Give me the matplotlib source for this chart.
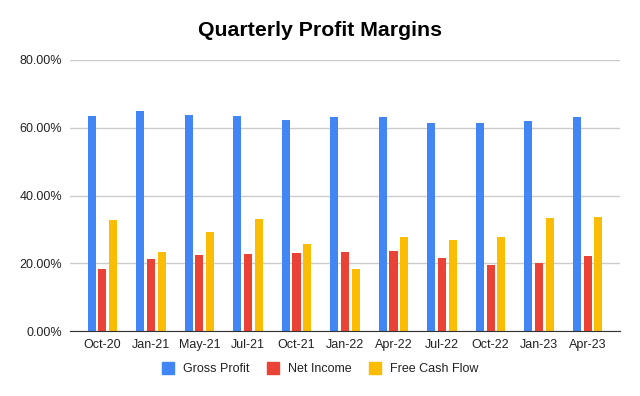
import matplotlib
matplotlib.use("Agg")
import matplotlib.pyplot as plt
import numpy as np
from matplotlib.ticker import FuncFormatter
from matplotlib.lines import Line2D

plt.rcParams['font.family'] = ['Liberation Sans', 'DejaVu Sans']

categories = ["Oct-20", "Jan-21", "May-21", "Jul-21", "Oct-21", "Jan-22",
              "Apr-22", "Jul-22", "Oct-22", "Jan-23", "Apr-23"]
gross_profit = [63.4, 65.0, 63.7, 63.4, 62.2, 63.2, 63.2, 61.3, 61.3, 61.9, 63.2]
net_income = [18.3, 21.2, 22.5, 22.8, 23.1, 23.3, 23.6, 21.5, 19.5, 20.2, 22.1]
free_cash_flow = [32.8, 23.3, 29.1, 33.1, 25.6, 18.3, 27.7, 26.9, 27.7, 33.5, 33.8]
series_names = ["Gross Profit", "Net Income", "Free Cash Flow"]
colors = ["#4285F4", "#EA4335", "#FBBC04"]

fig = plt.figure(figsize=(6.4, 3.96), dpi=100)
ax = fig.add_axes([70/640, 1 - 331/396, 550/640, (331 - 60)/396])

x = np.arange(len(categories))
w = 0.165
pitch = 0.22
for i, (vals, c) in enumerate(zip([gross_profit, net_income, free_cash_flow], colors)):
    ax.bar(x + (i - 1) * pitch, vals, width=w, color=c, zorder=3)

ax.set_ylim(0, 80)
ax.set_xlim(-0.67, len(categories) - 1 + 0.67)
ax.set_yticks([0, 20, 40, 60, 80])
ax.yaxis.set_major_formatter(FuncFormatter(lambda v, p: f"{v:.2f}%"))
ax.set_xticks(x)
ax.set_xticklabels(categories)
ax.grid(axis='y', color='#cccccc', linewidth=1, zorder=0)
for s in ['top', 'right', 'left']:
    ax.spines[s].set_visible(False)
ax.spines['bottom'].set_color('#333333')
ax.spines['bottom'].set_zorder(4)
ax.tick_params(axis='both', length=0, labelsize=9, colors='#222222', pad=6)
ax.tick_params(axis='y', pad=5.5)

fig.text(0.5, 1 - 30/396, "Quarterly Profit Margins", ha='center', va='center',
         fontsize=15.3, fontweight='bold', color='#000000')

handles = [Line2D([0], [0], marker='s', linestyle='none', markersize=8.5,
                  markerfacecolor=c, markeredgecolor=c) for c in colors]
fig.legend(handles, series_names, loc='center', bbox_to_anchor=(320/640, 1 - 369/396),
           ncol=3, frameon=False, fontsize=9, handlelength=1.0, handletextpad=0.7,
           columnspacing=1.4, labelcolor='#222222')

fig.savefig("out.png", dpi=100)
